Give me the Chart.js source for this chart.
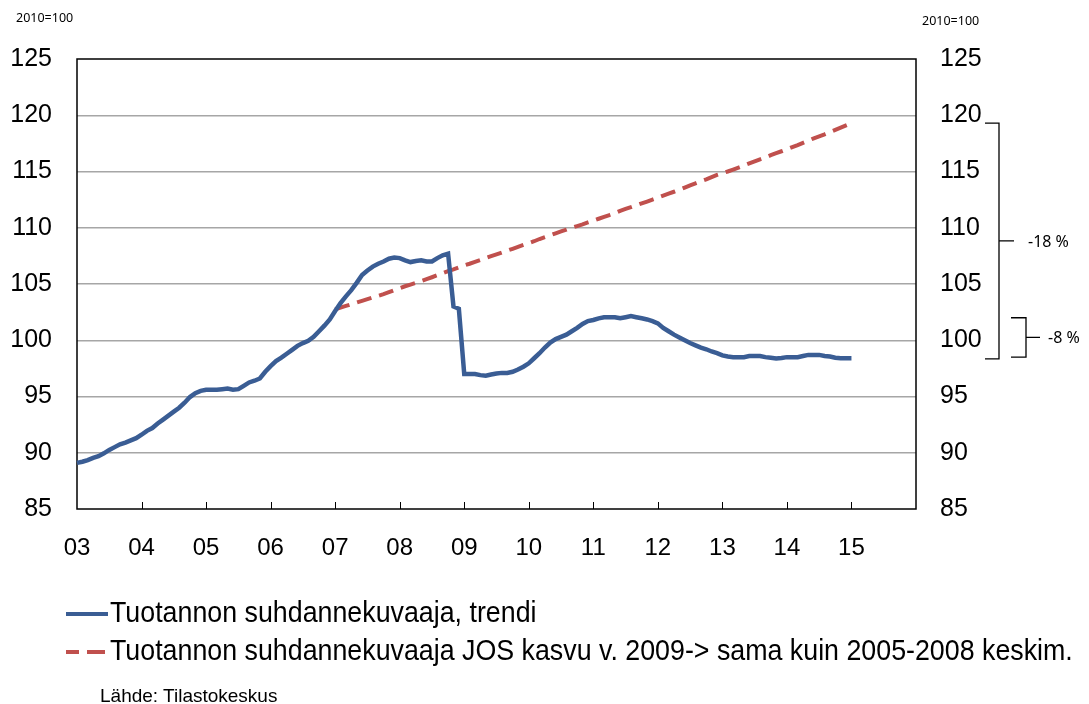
<!DOCTYPE html>
<html><head><meta charset="utf-8">
<script src="https://cdn.jsdelivr.net/npm/chart.js@4.4.0/dist/chart.umd.min.js"></script>
<style>
html,body{margin:0;padding:0;background:#fff;}
#wrap{position:relative;width:1089px;height:704px;overflow:hidden;background:#fff;}
canvas{position:absolute;left:0;top:0;}
.t{position:absolute;font-family:"Liberation Sans",Arial,sans-serif;color:#000;white-space:nowrap;line-height:1;}
.small{font-family:"Noto Sans","Open Sans",sans-serif;font-size:12.5px;}
.leg{font-size:30px;transform:scaleX(0.893);transform-origin:0 0;}
.src{font-size:19px;}
.sw{position:absolute;height:4px;}
</style></head><body>
<div id="wrap">
<canvas id="c" width="1089" height="704"></canvas>
<div class="t small" style="left:16px;top:12px">2010=100</div>
<div class="t small" style="left:922px;top:15px">2010=100</div>
<div class="sw" style="left:66px;top:612px;width:42px;background:#3a5d94"></div>
<div class="t leg" style="left:110px;top:597px">Tuotannon suhdannekuvaaja, trendi</div>
<div class="sw" style="left:66px;top:650px;width:13px;background:#c0504d"></div>
<div class="sw" style="left:87px;top:650px;width:18px;background:#c0504d"></div>
<div class="t leg" style="left:110px;top:635px">Tuotannon suhdannekuvaaja JOS kasvu v. 2009-&gt; sama kuin 2005-2008 keskim.</div>
<div class="t src" style="left:100px;top:686px">Lähde: Tilastokeskus</div>
</div>
<script>
// ---- data ----
const years = ['03','04','05','06','07','08','09','10','11','12','13','14','15','16'];
const yTicks = [85, 90, 95, 100, 105, 110, 115, 120, 125];
// Tuotannon suhdannekuvaaja, trendi (monthly, Jan 2003 - Jan 2015)
const trendi = [
89.1,89.2,89.35,89.55,89.7,89.95,90.25,90.5,90.75,90.9,91.1,91.3,
91.6,91.95,92.2,92.6,92.95,93.3,93.65,94.0,94.45,94.95,95.3,95.5,
95.6,95.6,95.6,95.65,95.7,95.6,95.65,95.95,96.25,96.4,96.6,97.2,
97.7,98.15,98.45,98.8,99.15,99.5,99.75,99.95,100.3,100.8,101.3,101.85,
102.6,103.3,103.9,104.45,105.1,105.8,106.2,106.55,106.8,107.0,107.25,107.35,
107.3,107.1,106.95,107.05,107.1,107.0,107.0,107.3,107.55,107.7,103.0,102.8,
97.0,97.0,97.0,96.9,96.85,96.95,97.05,97.1,97.1,97.2,97.4,97.65,
97.95,98.4,98.85,99.35,99.8,100.1,100.3,100.5,100.8,101.1,101.45,101.7,
101.8,101.95,102.05,102.05,102.05,101.95,102.05,102.15,102.05,101.95,101.85,101.7,
101.5,101.1,100.8,100.5,100.25,100.0,99.75,99.55,99.35,99.2,99.0,98.85,
98.65,98.55,98.5,98.5,98.5,98.6,98.6,98.6,98.5,98.45,98.37,98.42,
98.5,98.5,98.5,98.6,98.7,98.7,98.7,98.6,98.55,98.45,98.4,98.4,
98.4
];
// JOS-skenaario (monthly, Jan 2007 - Jan 2015)
const josStart = 48; // index of Jan 2007
const jos = [
102.75,102.9,103.05,103.2,103.35,103.5,103.65,103.8,103.95,104.1,104.27,104.45,
104.63,104.8,104.95,105.1,105.27,105.43,105.6,105.78,105.97,106.15,106.3,106.47,
106.65,106.8,106.97,107.13,107.3,107.47,107.63,107.8,107.97,108.13,108.3,108.47,
108.63,108.8,109.0,109.17,109.33,109.5,109.67,109.83,110.0,110.15,110.3,110.47,
110.63,110.8,110.97,111.13,111.3,111.5,111.67,111.83,112.0,112.17,112.33,112.5,
112.67,112.85,113.03,113.2,113.38,113.57,113.77,113.95,114.13,114.3,114.5,114.7,
114.85,115.0,115.17,115.35,115.53,115.72,115.9,116.08,116.25,116.45,116.63,116.8,
116.98,117.17,117.35,117.55,117.75,117.95,118.12,118.3,118.5,118.7,118.9,119.1,
119.3
];
const bracket18 = [119.3, 98.35];
const bracket8 = [102.0, 98.5];
const labels18 = '-18 %', labels8 = '-8 %';

// month category labels from year list
const months = [];
years.forEach((y, k) => {
  for (let m = 1; m <= 12; m++) {
    if (k === years.length - 1 && m > 1) break;
    months.push(y + '-' + m);
  }
});
const josData = new Array(josStart).fill(null).concat(jos);

const FONT = '"Liberation Sans", Arial, sans-serif';

const framePlugin = {
  id: 'frame',
  beforeDatasetsDraw(chart) {
    const {ctx, chartArea: a, scales} = chart;
    ctx.save();
    ctx.strokeStyle = '#000';
    ctx.lineWidth = 1.5;
    ctx.strokeRect(a.left, a.top, a.right - a.left, a.bottom - a.top);
    // inward year ticks
    ctx.lineWidth = 1;
    for (let i = 12; i < months.length - 1; i += 12) {
      const x = Math.round(scales.x.getPixelForValue(i)) + 0.5;
      ctx.beginPath();
      ctx.moveTo(x, a.bottom);
      ctx.lineTo(x, a.bottom - 7);
      ctx.stroke();
    }
    ctx.restore();
  },
  afterDraw(chart) {
    const {ctx} = chart;
    const ys = chart.scales.y2;
    ctx.save();
    ctx.strokeStyle = '#000';
    ctx.lineWidth = 1.3;
    function br(vals, x0, x1, x2, text, xt) {
      const yA = ys.getPixelForValue(vals[0]);
      const yB = ys.getPixelForValue(vals[1]);
      const yM = (yA + yB) / 2;
      ctx.beginPath();
      ctx.moveTo(x0, yA); ctx.lineTo(x1, yA); ctx.lineTo(x1, yB); ctx.lineTo(x0, yB);
      ctx.moveTo(x1, yM); ctx.lineTo(x2, yM);
      ctx.stroke();
      ctx.fillStyle = '#000';
      ctx.font = '16px "Noto Sans", "Open Sans", sans-serif';
      ctx.textBaseline = 'middle';
      ctx.textAlign = 'left';
      ctx.fillText(text, xt, yM + 1);
    }
    br(bracket18, 985, 999, 1014, labels18, 1028);
    br(bracket8, 1011, 1026, 1040, labels8, 1048);
    ctx.restore();
  }
};

new Chart(document.getElementById('c'), {
  type: 'line',
  data: {
    labels: months,
    datasets: [
      {label: 'Tuotannon suhdannekuvaaja, trendi', data: trendi, borderColor: '#3a5d94',
       borderWidth: 4.5, pointRadius: 0, tension: 0, fill: false, order: 1},
      {label: 'Tuotannon suhdannekuvaaja JOS kasvu v. 2009-> sama kuin 2005-2008 keskim.', data: josData,
       borderColor: '#c0504d', borderWidth: 4, borderDash: [15, 8], pointRadius: 0, tension: 0,
       fill: false, spanGaps: false, order: 2}
    ]
  },
  options: {
    responsive: false,
    animation: false,
    events: [],
    layout: {padding: {top: 59, left: 0, right: 0, bottom: 0}},
    plugins: {legend: {display: false}, tooltip: {enabled: false}},
    scales: {
      x: {
        type: 'category', offset: false,
        grid: {display: false, drawTicks: false},
        border: {display: false},
        ticks: {
          autoSkip: false, maxRotation: 0, minRotation: 0, padding: 25,
          color: '#000', font: {family: FONT, size: 24},
          callback: (v, i) => (i % 12 === 0 && i < months.length - 1) ? months[i].slice(0, 2) : ''
        },
        afterFit: s => { s.height = 195; }
      },
      y: {
        position: 'left', min: 85, max: 125,
        afterBuildTicks: s => { s.ticks = yTicks.map(v => ({value: v})); },
        grid: {
          drawTicks: false, lineWidth: 1.5,
          color: c => (c.tick && (c.tick.value === 85 || c.tick.value === 125)) ? 'rgba(0,0,0,0)' : '#a6a6a6'
        },
        border: {display: false},
        ticks: {padding: 25, color: '#000', font: {family: FONT, size: 25}},
        afterFit: s => { s.width = 77; }
      },
      y2: {
        position: 'right', min: 85, max: 125,
        afterBuildTicks: s => { s.ticks = yTicks.map(v => ({value: v})); },
        grid: {display: false, drawTicks: false},
        border: {display: false},
        ticks: {padding: 24, color: '#000', font: {family: FONT, size: 25}},
        afterFit: s => { s.width = 173; }
      }
    }
  },
  plugins: [framePlugin]
});
</script>
</body></html>
